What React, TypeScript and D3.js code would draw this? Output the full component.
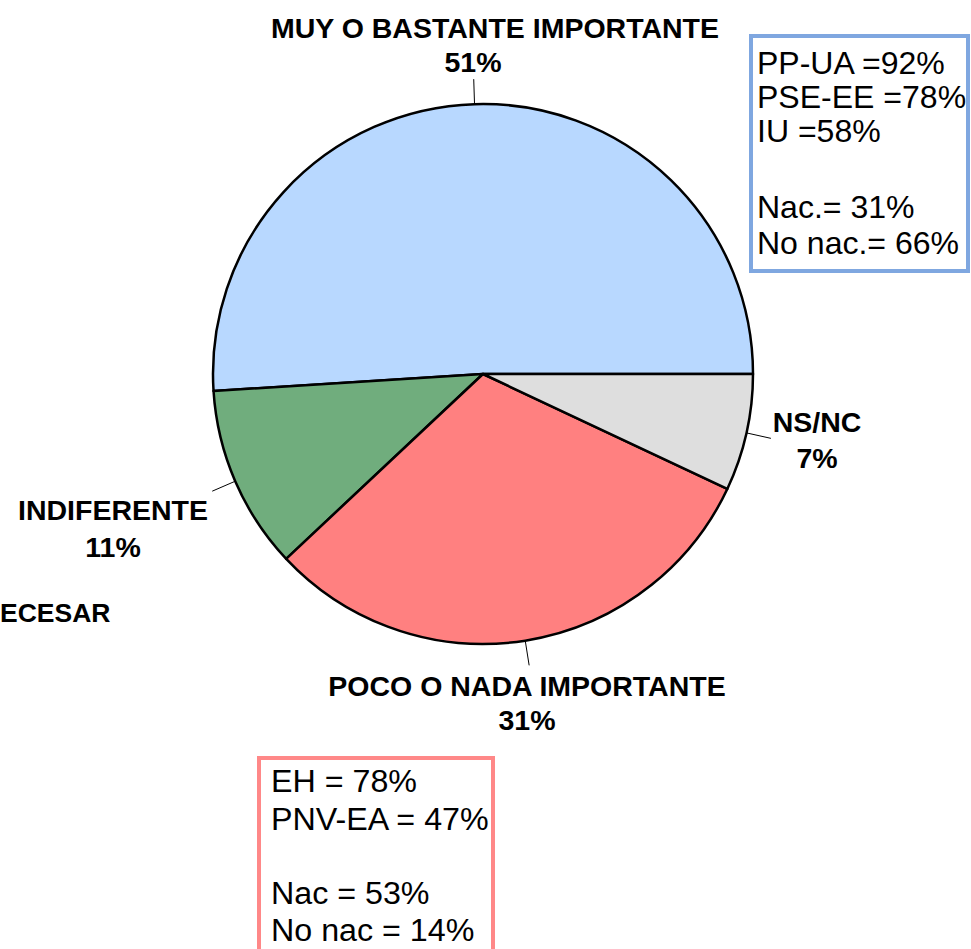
import React from "react";
import * as d3 from "d3";

const categories = ["MUY O BASTANTE IMPORTANTE", "INDIFERENTE", "POCO O NADA IMPORTANTE", "NS/NC"];
const values = [51, 11, 31, 7];
const sliceColors = ["#B8D8FF", "#70AD7D", "#FF8080", "#DEDEDE"];
const blueNotes = ["PP-UA =92%", "PSE-EE =78%", "IU =58%", "", "Nac.= 31%", "No nac.= 66%"];
const redNotes = ["EH = 78%", "PNV-EA = 47%", "", "Nac = 53%", "No nac = 14%"];
const clippedLabel = "ECESAR";

const W = 971;
const H = 949;
const cx = 483;
const cy = 374;
const R = 270;

// label placement (center x, baseline of name line, baseline of pct line)
const labelPos = [
  { x: 495, y1: 38, x2: 473, y2: 72 },
  { x: 113, y1: 520, x2: 113, y2: 557 },
  { x: 527, y1: 696, x2: 527, y2: 730 },
  { x: 817, y1: 432, x2: 817, y2: 468 },
];
const blueBaselines = [74, 108, 141.5, 179, 218, 254];
const redBaselines = [792, 829.5, 866, 903.5, 940.5];

export default function App() {
  const pie = d3
    .pie<number>()
    .sort(null)
    .value((d) => d)
    .startAngle(Math.PI / 2)
    .endAngle(Math.PI / 2 - 2 * Math.PI);
  const arcs = pie(values);
  const arc = d3.arc<d3.PieArcDatum<number>>().innerRadius(0).outerRadius(R);
  const pointAt = (a: number, r: number) => [cx + r * Math.sin(a), cy - r * Math.cos(a)];

  const font = "'Liberation Sans', Arial, sans-serif";
  return (
    <div style={{ position: "absolute", left: 0, top: 0 }}>
      <svg width={W} height={H} style={{ display: "block" }}>
        <rect x={0} y={0} width={W} height={H} fill="#fff" />
        <g transform={`translate(${cx},${cy})`}>
          {arcs.map((a, i) => (
            <path key={i} d={arc(a) || ""} fill={sliceColors[i]} stroke="#000" strokeWidth={2.5} strokeLinejoin="round" />
          ))}
        </g>
        {arcs.map((a, i) => {
          const mid = (a.startAngle + a.endAngle) / 2;
          const [x1, y1] = pointAt(mid, R);
          const [x2, y2] = pointAt(mid, R + 25);
          return <line key={i} x1={x1} y1={y1} x2={x2} y2={y2} stroke="#000" strokeWidth={1} />;
        })}
        {categories.map((c, i) => (
          <g key={i} fontFamily={font} fontWeight="bold" fontSize={28.5} textAnchor="middle" fill="#000">
            <text x={labelPos[i].x} y={labelPos[i].y1}>{c}</text>
            <text x={labelPos[i].x2} y={labelPos[i].y2}>{values[i]}%</text>
          </g>
        ))}
        <text x={0} y={622} fontFamily={font} fontWeight="bold" fontSize={26.5} fill="#000">{clippedLabel}</text>

        <rect x={751} y={36} width={217} height={235} fill="#fff" stroke="#7FA7E0" strokeWidth={4} />
        <g fontFamily={font} fontSize={30.5} fill="#000">
          {blueNotes.map((t, i) => (
            <g key={i} transform={`translate(757,${blueBaselines[i]}) scale(1.05,1)`}>
              <text x={0} y={0}>{t}</text>
            </g>
          ))}
        </g>

        <rect x={259} y={758} width={234} height={200} fill="#fff" stroke="#FF8888" strokeWidth={4} />
        <g fontFamily={font} fontSize={31} fill="#000">
          {redNotes.map((t, i) => (
            <g key={i} transform={`translate(271,${redBaselines[i]}) scale(1.04,1)`}>
              <text x={0} y={0}>{t}</text>
            </g>
          ))}
        </g>
      </svg>
    </div>
  );
}
